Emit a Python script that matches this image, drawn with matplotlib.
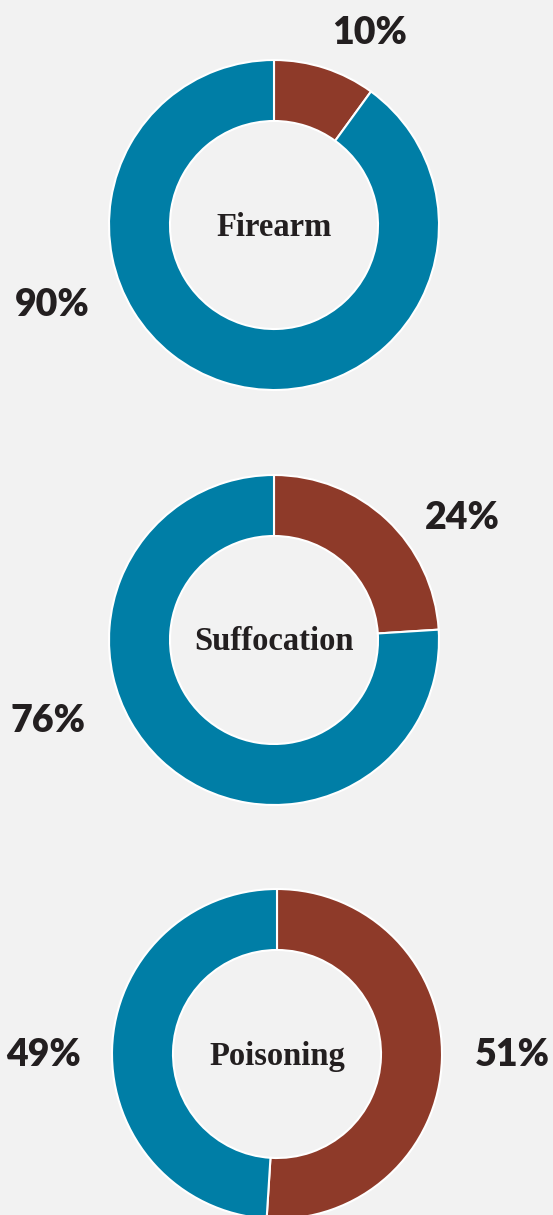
import matplotlib
matplotlib.use("Agg")
import matplotlib.pyplot as plt

# ---- data ----
categories = ["Firearm", "Suffocation", "Poisoning"]
red_share = [10, 24, 51]
blue_share = [90, 76, 49]
red_labels = ["10%", "24%", "51%"]
blue_labels = ["90%", "76%", "49%"]

# ---- style / layout ----
W, H = 553, 1215
BG = "#f2f2f2"
RED = "#8e3a29"
BLUE = "#007ea6"
TXT = "#231f20"
R = 165
HOLE = 104
centers = [(274, 225), (274, 640), (277, 1054)]  # pixel coords (y from top)
red_lab_pos = [(370, 33), (462, 518), (512, 1055)]
blue_lab_pos = [(52, 305), (48, 721), (44, 1055)]

fig = plt.figure(figsize=(W / 100, H / 100), dpi=100, facecolor=BG)
ax = fig.add_axes([0, 0, 1, 1])
ax.set_facecolor(BG)
ax.set_xlim(0, W)
ax.set_ylim(0, H)
ax.set_aspect("equal")
ax.axis("off")

num_font = dict(family=["Lato", "DejaVu Sans"], weight="heavy", size=27, color=TXT)
cat_font = dict(family=["Liberation Serif", "DejaVu Serif"], weight="bold", size=23.5, color=TXT)

for i, cat in enumerate(categories):
    cx, cy = centers[i]
    ax.pie([red_share[i], blue_share[i]], colors=[RED, BLUE],
           startangle=90, counterclock=False,
           center=(cx, H - cy), radius=R, frame=True,
           wedgeprops=dict(width=R - HOLE, edgecolor="white", linewidth=1.5))
    ax.text(cx, H - cy - 2, cat, ha="center", va="center", **cat_font)
    rx, ry = red_lab_pos[i]
    ax.text(rx, H - ry, red_labels[i], ha="center", va="center", **num_font)
    bx, by = blue_lab_pos[i]
    ax.text(bx, H - by, blue_labels[i], ha="center", va="center", **num_font)

ax.set_xlim(0, W)
ax.set_ylim(0, H)
ax.axis("off")
fig.savefig("out.png", dpi=100, facecolor=BG)
